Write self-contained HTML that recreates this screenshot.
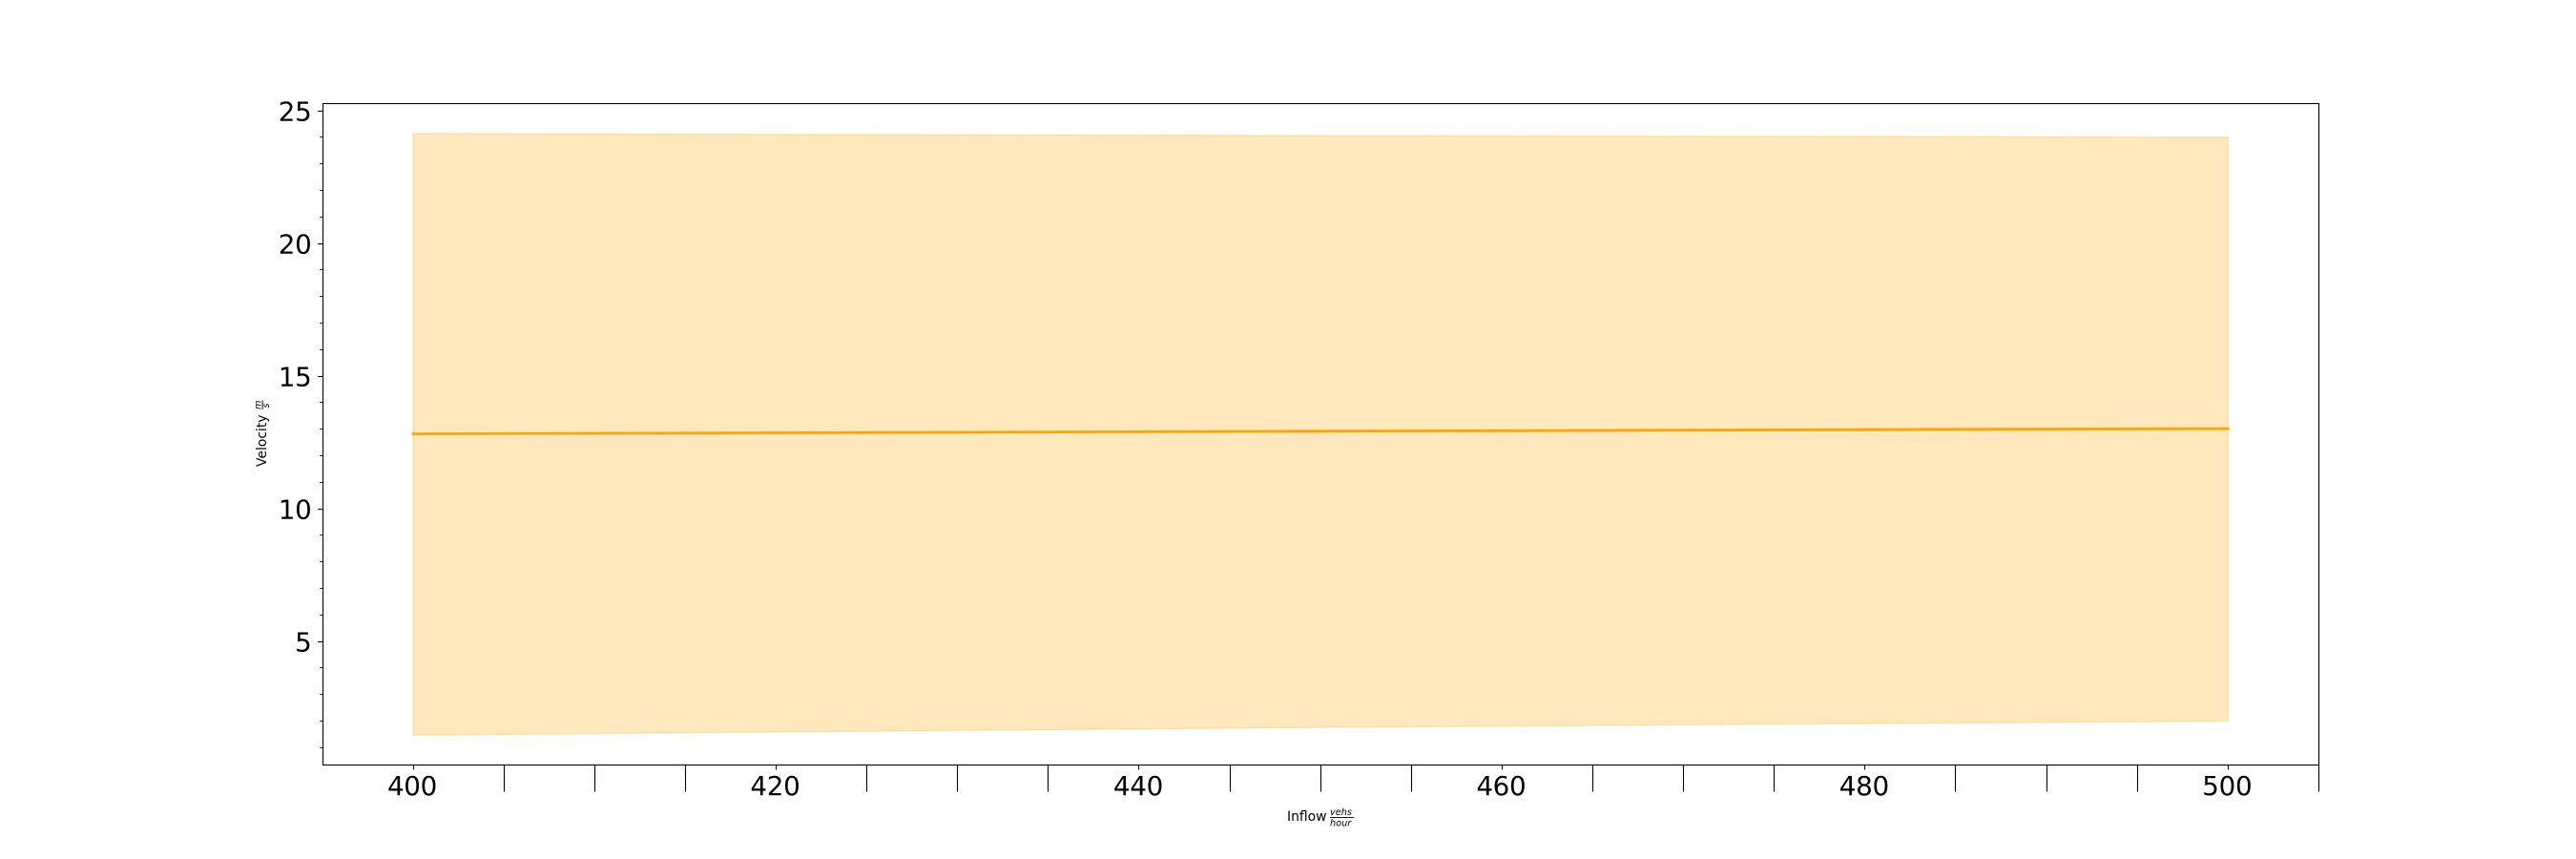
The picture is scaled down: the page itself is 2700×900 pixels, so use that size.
<!DOCTYPE html>
<html>
<head>
<meta charset="utf-8">
<title>Velocity vs Inflow</title>
<style>
html,body{margin:0;padding:0;background:#fff;width:2700px;height:900px;overflow:hidden}
svg{display:block}
text{font-family:"DejaVu Sans","Liberation Sans",sans-serif;fill:#000}
</style>
</head>
<body>
<svg id="chart" width="2700" height="900" viewBox="0 0 2700 900" xmlns="http://www.w3.org/2000/svg">
  <rect x="0" y="0" width="2700" height="900" fill="#ffffff"/>
  <g id="band-layer"></g>
  <g id="line-layer"></g>
  <g id="tick-layer"></g>
  <g id="label-layer"></g>
  <g id="spine-layer">
    <rect x="338" y="108" width="2093" height="1.1" fill="#000"/>
    <rect x="338" y="801" width="2093" height="1.1" fill="#000"/>
    <rect x="338" y="108" width="1.1" height="694" fill="#000"/>
    <rect x="2430" y="108" width="1.1" height="694" fill="#000"/>
  </g>
  <g>
    <text x="1349" y="860" font-size="13.9px">Inflow</text>
    <text x="1394" y="854" font-size="9.7px" font-style="italic">vehs</text>
    <rect x="1394" y="856" width="25" height="0.9" fill="#000"/>
    <text x="1394" y="865.3" font-size="9.7px" font-style="italic">hour</text>
  </g>
  <g transform="translate(279,489) rotate(-90)">
    <text x="0" y="0" font-size="13.9px">Velocity</text>
    <text x="60" y="-5.5" font-size="9.7px" font-style="italic">m</text>
    <rect x="60" y="-4.3" width="9.5" height="0.9" fill="#000"/>
    <text x="61.5" y="3.2" font-size="9.7px" font-style="italic">s</text>
  </g>
</svg>
<script>
const inflow = [400, 450, 500];
const meanVelocity = [12.82, 12.92, 13.02];
const bandUpper = [24.14, 24.06, 24.0];
const bandLower = [1.47, 1.76, 2.0];
const xMajorTicks = [400, 420, 440, 460, 480, 500];
const xMinorTicks = [405, 410, 415, 425, 430, 435, 445, 450, 455, 465, 470, 475, 485, 490, 495, 505];
const yMajorTicks = [5, 10, 15, 20, 25];
const yMinorTicks = [1, 2, 3, 4, 6, 7, 8, 9, 11, 12, 13, 14, 16, 17, 18, 19, 21, 22, 23, 24];

const NS = 'http://www.w3.org/2000/svg';
const xScale = v => 433.0 + (v - 400) * 19.023;
const yScale = v => 811 - v * 27.8;
const snap = p => Math.floor(p) + 0.5;

function make(tag, attrs, parent) {
  const el = document.createElementNS(NS, tag);
  for (const k in attrs) el.setAttribute(k, attrs[k]);
  parent.appendChild(el);
  return el;
}

const bandLayer = document.getElementById('band-layer');
const lineLayer = document.getElementById('line-layer');
const tickLayer = document.getElementById('tick-layer');
const labelLayer = document.getElementById('label-layer');

const upperPts = inflow.map((v, i) => xScale(v) + ',' + yScale(bandUpper[i]));
const lowerPts = inflow.map((v, i) => xScale(v) + ',' + yScale(bandLower[i])).reverse();
const band = make('polygon', {
  points: upperPts.concat(lowerPts).join(' '),
  fill: '#ffa500',
  'fill-opacity': 0.26,
  stroke: '#ffa500',
  'stroke-opacity': 0.26,
  'stroke-width': 1.4
}, bandLayer);



const line = make('polyline', {
  points: inflow.map((v, i) => xScale(v) + ',' + yScale(meanVelocity[i])).join(' '),
  fill: 'none',
  stroke: '#ffa500',
  'stroke-width': 2.8,
  'stroke-linecap': 'square'
}, lineLayer);



xMajorTicks.forEach(v => {
  const x = snap(xScale(v));
  const t = make('line', {x1: x, x2: x, y1: 802, y2: 806.5, stroke: '#000', 'stroke-width': 1.1}, tickLayer);
  
  
  const l = make('text', {x: xScale(v) - 1, y: 833, 'font-size': '27.78px', 'text-anchor': 'middle', 'letter-spacing': '-0.3px'}, labelLayer);
  l.textContent = String(v);
  
  
});

xMinorTicks.forEach(v => {
  const x = snap(xScale(v));
  const t = make('line', {x1: x, x2: x, y1: 802, y2: 829.5, stroke: '#000', 'stroke-width': 1.1}, tickLayer);
  
  
});

yMajorTicks.forEach(v => {
  const y = snap(yScale(v));
  const t = make('line', {x1: 338, x2: 333.2, y1: y, y2: y, stroke: '#000', 'stroke-width': 1.1}, tickLayer);
  
  
  const l = make('text', {x: 326.5, y: yScale(v) + 10.3, 'font-size': '27.78px', 'text-anchor': 'end', 'letter-spacing': '-0.3px'}, labelLayer);
  l.textContent = String(v);
  
  
});

yMinorTicks.forEach(v => {
  const y = snap(yScale(v));
  const t = make('line', {x1: 338, x2: 335.2, y1: y, y2: y, stroke: '#000', 'stroke-width': 0.85}, tickLayer);
  
  
});
</script>
</body>
</html>
